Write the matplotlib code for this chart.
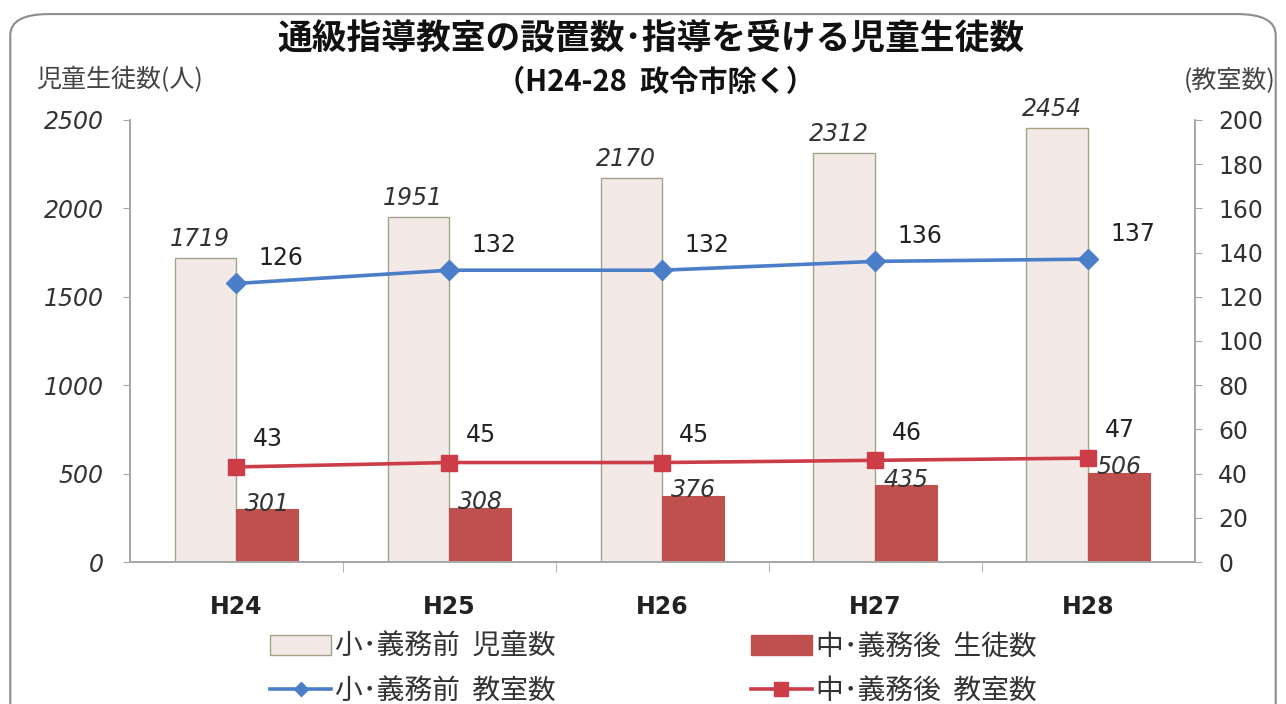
import matplotlib

matplotlib.use("Agg")

import matplotlib.pyplot as plt
import numpy as np
from matplotlib.patches import FancyBboxPatch, Patch
from matplotlib.lines import Line2D

plt.rcParams["font.family"] = ["Noto Sans CJK JP", "DejaVu Sans"]

# data
years = ["H24", "H25", "H26", "H27", "H28"]
elem_students = [1719, 1951, 2170, 2312, 2454]
junior_students = [301, 308, 376, 435, 506]
elem_rooms = [126, 132, 132, 136, 137]
junior_rooms = [43, 45, 45, 46, 47]

title = "通級指導教室の設置数･指導を受ける児童生徒数"
subtitle = "（H24-28  政令市除く）"
left_label = "児童生徒数(人)"
right_label = "(教室数)"
legend_labels = ["小･義務前  児童数", "小･義務前  教室数", "中･義務後  生徒数", "中･義務後  教室数"]

LIGHT = "#f3e9e7"
LIGHT_EDGE = "#a3a38a"
DARK = "#c0504d"
BLUE = "#4a7ec8"
RED = "#cc3d48"
GREY = "#a6a6a6"
TXT = "#333333"

fig = plt.figure(figsize=(12.86, 7.04), dpi=100)
fig.patches.append(
    FancyBboxPatch((0.008, -0.05), 0.984, 1.03, boxstyle="round,pad=0,rounding_size=0.03",
                   transform=fig.transFigure, facecolor="white", edgecolor="#8c8c8c",
                   linewidth=1.5, zorder=-5)
)

ax = fig.add_axes([0.101, 0.2017, 0.828, 0.628])
ax2 = ax.twinx()
ax.set_zorder(1)
ax2.set_zorder(2)
ax.patch.set_visible(False)

x = np.arange(len(years))
w = 0.29
ax.bar(x - w / 2, elem_students, w, color=LIGHT, edgecolor=LIGHT_EDGE, linewidth=1.0)
ax.bar(x + w / 2, junior_students, w, color=DARK, edgecolor=DARK, linewidth=0.8)

ax2.plot(x, elem_rooms, color=BLUE, lw=2.6, marker="D", ms=10, mfc=BLUE, mec=BLUE)
ax2.plot(x, junior_rooms, color=RED, lw=2.6, marker="s", ms=12, mfc=RED, mec=RED)

ax.set_xlim(-0.5, len(years) - 0.5)
ax.set_ylim(0, 2500)
ax2.set_ylim(0, 200)
ax.set_yticks(np.arange(0, 2501, 500))
ax2.set_yticks(np.arange(0, 201, 20))

ax.set_xticks(x)
ax.set_xticklabels(years, fontsize=17, fontweight="bold", color="#222222", family="DejaVu Sans")
ax.set_xticks(np.arange(0.5, len(years) - 0.5, 1), minor=True)
ax.tick_params(axis="x", which="major", length=0, pad=24)
ax.tick_params(axis="x", which="minor", length=7, color=GREY, direction="out")
ax.tick_params(axis="y", length=5, color=GREY, pad=14, labelsize=17)
for t in ax.get_yticklabels():
    t.set_fontstyle("italic")
    t.set_color(TXT)
    t.set_family("DejaVu Sans")
ax2.tick_params(axis="y", length=5, color=GREY, pad=12, labelsize=17, labelcolor=TXT)
for t in ax2.get_yticklabels():
    t.set_family("DejaVu Sans")

for a in (ax, ax2):
    a.spines["top"].set_visible(False)
    for s in ("left", "right", "bottom"):
        a.spines[s].set_color(GREY)
        a.spines[s].set_linewidth(1.2)

# value labels
for i in x:
    ax.annotate(str(elem_students[i]), (i - w / 2, elem_students[i]), xytext=(-4, 5),
                textcoords="offset points", ha="center", va="bottom", fontsize=17,
                fontstyle="italic", color=TXT, family="DejaVu Sans", zorder=5)
    ax.annotate(str(junior_students[i]), (i + w / 2, junior_students[i]), xytext=(0, -5),
                textcoords="offset points", ha="center", va="bottom", fontsize=17,
                fontstyle="italic", color=TXT, family="DejaVu Sans", zorder=5)
    ax2.annotate(str(elem_rooms[i]), (i, elem_rooms[i]), xytext=(16, 18),
                 textcoords="offset points", ha="left", va="center", fontsize=17,
                 color="#222222", family="DejaVu Sans")
    ax2.annotate(str(junior_rooms[i]), (i, junior_rooms[i]), xytext=(12, 20),
                 textcoords="offset points", ha="left", va="center", fontsize=17,
                 color="#222222", family="DejaVu Sans")

fig.text(0.506, 0.944, title, ha="center", va="center", fontsize=25, fontweight="bold", color="#111111")
fig.text(0.51, 0.884, subtitle, ha="center", va="center", fontsize=21, fontweight="bold", color="#111111")
fig.text(0.028, 0.886, left_label, ha="left", va="center", fontsize=18, color="#444444")
fig.text(0.992, 0.886, right_label, ha="right", va="center", fontsize=18, color="#444444")

handles = [
    Patch(facecolor=LIGHT, edgecolor=LIGHT_EDGE),
    Line2D([], [], color=BLUE, lw=2.6, marker="D", ms=7),
    Patch(facecolor=DARK, edgecolor=DARK),
    Line2D([], [], color=RED, lw=2.6, marker="s", ms=10),
]
fig.legend(handles, legend_labels, ncol=2, loc="center", bbox_to_anchor=(0.508, 0.05),
           frameon=False, fontsize=20, handlelength=2.2, handleheight=0.75, handletextpad=0.15,
           columnspacing=7.0, labelspacing=0.5, labelcolor="#333333")

fig.savefig("out.png", dpi=100)
